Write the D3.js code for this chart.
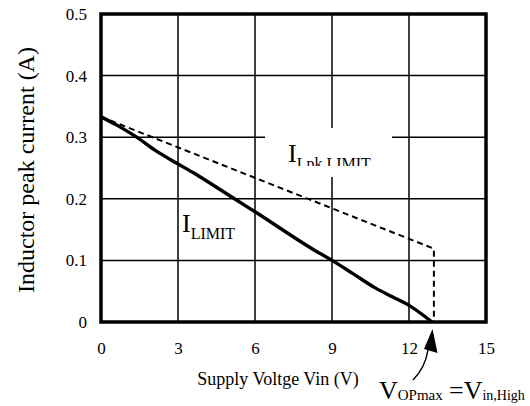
<!DOCTYPE html>
<html><head><meta charset="utf-8">
<script src="https://cdn.jsdelivr.net/npm/d3@7"></script>
<style>body{margin:0;background:#fff}svg{display:block}svg text{font-family:"Liberation Serif","Times New Roman",Times,"DejaVu Serif",serif !important;fill:#000}</style>
</head><body>
<svg id="c" width="530" height="406"></svg>
<script>
const xTicks = [0, 3, 6, 9, 12, 15];
const yTicks = [0, 0.1, 0.2, 0.3, 0.4, 0.5];
const yTickLabels = ["0", "0.1", "0.2", "0.3", "0.4", "0.5"];
const limitV = [0, 0.6, 1.39, 2.1, 2.94, 3.65, 4.04, 5.2, 6.0, 8.3, 9.0, 9.8, 10.7, 11.35, 12.0, 12.9];
const limitI = [0.333, 0.320, 0.300, 0.279, 0.258, 0.241, 0.231, 0.200, 0.179, 0.117, 0.100, 0.079, 0.055, 0.041, 0.027, 0.0];
const pkV = [0, 12.97, 12.97];
const pkI = [0.333, 0.119, 0.0];

const FONT = '"Liberation Serif","Times New Roman",Times,"DejaVu Serif",serif';
const svg = d3.select("#c");
const x = d3.scaleLinear().domain([0, 15]).range([101, 486]);
const y = d3.scaleLinear().domain([0, 0.5]).range([322, 14]);

// grid
const g = svg.append("g");
g.selectAll(".vg").data(xTicks.slice(1, -1)).join("line")
  .attr("x1", d => x(d)).attr("x2", d => x(d)).attr("y1", y(0)).attr("y2", y(0.5))
  .attr("stroke", "#000").attr("stroke-width", 1.5);
g.selectAll(".hg").data(yTicks.slice(1, -1)).join("line")
  .attr("x1", x(0)).attr("x2", x(15)).attr("y1", d => y(d)).attr("y2", d => y(d))
  .attr("stroke", "#000").attr("stroke-width", 1.5);

// white box behind the I_Lpk label
svg.append("rect").attr("x", 265).attr("y", 128).attr("width", 127).attr("height", 49).attr("fill", "#fff");

// data lines
const line = d3.line().x(d => x(d[0])).y(d => y(d[1]));
svg.append("path").datum(pkV.map((v, i) => [v, pkI[i]])).attr("d", line)
  .attr("fill", "none").attr("stroke", "#000").attr("stroke-width", 2).attr("stroke-dasharray", "6,4");
const sline = d3.line().x(d => x(d[0])).y(d => y(d[1])).curve(d3.curveMonotoneX);
svg.append("path").datum(limitV.map((v, i) => [v, limitI[i]])).attr("d", sline)
  .attr("fill", "none").attr("stroke", "#000").attr("stroke-width", 3.4).attr("stroke-linejoin", "round");

// frame
svg.append("rect").attr("x", x(0)).attr("y", y(0.5)).attr("width", x(15) - x(0)).attr("height", y(0) - y(0.5))
  .attr("fill", "none").attr("stroke", "#000").attr("stroke-width", 3.5);

// axes (labels only)
const xAxis = d3.axisBottom(x).tickValues(xTicks).tickSize(0).tickPadding(0).tickFormat(d3.format("d"));
const xa = svg.append("g").attr("transform", `translate(0,${y(0) + 20})`).call(xAxis)
  .attr("font-family", FONT).attr("font-size", 17);
xa.select(".domain").remove();
xa.selectAll("text").attr("fill", "#000").style("font-size", "17px");
const yAxis = d3.axisLeft(y).tickValues(yTicks).tickSize(0).tickPadding(0).tickFormat((d, i) => yTickLabels[i]);
const ya = svg.append("g").attr("transform", `translate(${x(0) - 14},0)`).call(yAxis)
  .attr("font-family", FONT).attr("font-size", 17);
ya.select(".domain").remove();
ya.selectAll("text").attr("fill", "#000").style("font-size", "17px");

// axis titles
svg.append("text").attr("x", 278).attr("y", 385).attr("text-anchor", "middle").style("font-size", "18px")
  .text("Supply Voltge Vin (V)");
svg.append("text").attr("transform", "translate(34,170) rotate(-90)").attr("text-anchor", "middle").style("font-size", "24px")
  .text("Inductor peak current (A)");

// I_LIMIT label
const t1 = svg.append("text").attr("x", 182).attr("y", 232).style("font-size", "26px");
t1.append("tspan").text("I");
t1.append("tspan").style("font-size", "16px").attr("dy", 6.5).text("LIMIT");

// I_Lpk,LIMIT label (clipped)
svg.append("clipPath").attr("id", "clipLbl").append("rect").attr("x", 265).attr("y", 128).attr("width", 127).attr("height", 38);
const t2 = svg.append("text").attr("x", 288).attr("y", 162).style("font-size", "26px").attr("clip-path", "url(#clipLbl)");
t2.append("tspan").text("I");
t2.append("tspan").style("font-size", "16px").attr("dy", 6.5).text("Lpk,LIMIT");

// V_OPmax = V_in,High label
const t3 = svg.append("text").attr("y", 399).style("font-size", "26px");
t3.append("tspan").attr("x", 379).text("V");
t3.append("tspan").style("font-size", "15px").attr("dy", 1).text("OPmax");
t3.append("tspan").attr("x", 449).style("font-size", "26px").attr("dy", -1).text("=V");
t3.append("tspan").style("font-size", "14px").attr("dy", 1).text("in,High");

// arrow
svg.append("path").attr("d", "M413,380 Q425,368 428,350").attr("fill", "none").attr("stroke", "#000").attr("stroke-width", 1.5);
svg.append("path").attr("d", "M432.5,329 L437.5,353 L424,349 Z").attr("fill", "#000");
</script>
</body></html>
